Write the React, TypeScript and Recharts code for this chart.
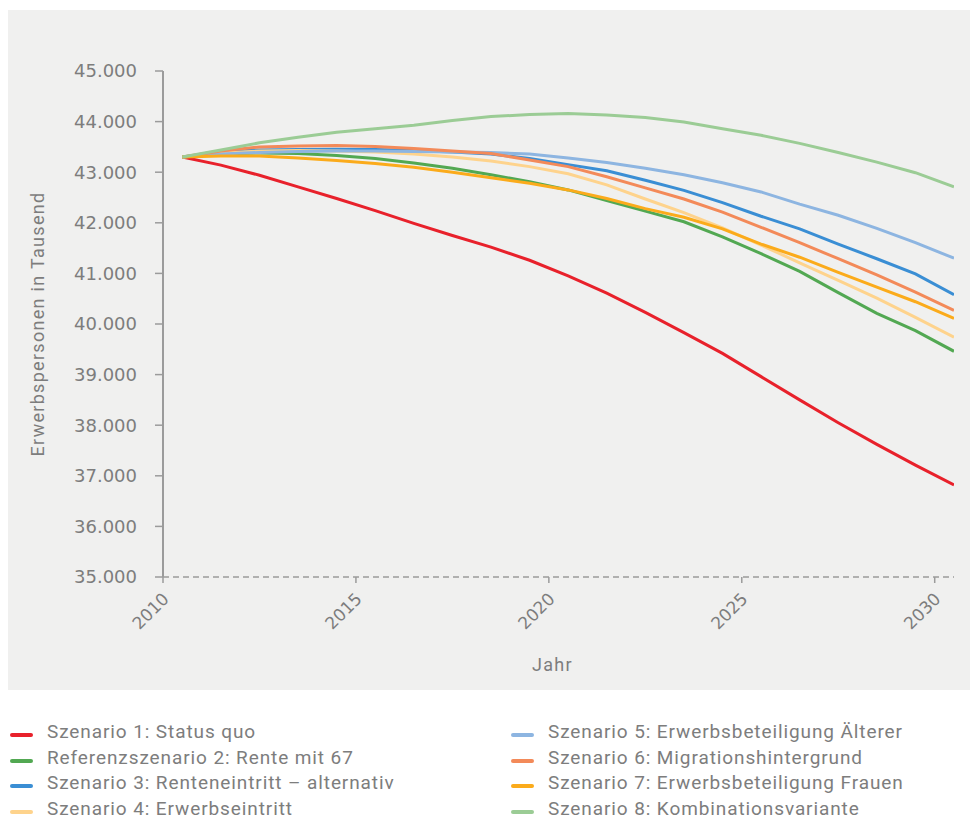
import React from 'react';
import { LineChart, Line, XAxis, YAxis } from 'recharts';

const years = [
  2010.5, 2011.5, 2012.5, 2013.5, 2014.5, 2015.5, 2016.5, 2017.5, 2018.5, 2019.5, 2020.5,
  2021.5, 2022.5, 2023.5, 2024.5, 2025.5, 2026.5, 2027.5, 2028.5, 2029.5, 2030.5,
];
const xTicks = [2010, 2015, 2020, 2025, 2030];
const yTicks = [35000, 36000, 37000, 38000, 39000, 40000, 41000, 42000, 43000, 44000, 45000];

const s1 = [43300, 43140, 42940, 42710, 42480, 42240, 41990, 41750, 41520, 41260, 40950, 40610, 40230, 39830, 39420, 38960, 38500, 38050, 37620, 37210, 36820];
const s2 = [43300, 43360, 43380, 43370, 43330, 43270, 43180, 43080, 42950, 42810, 42650, 42440, 42230, 42020, 41720, 41390, 41040, 40620, 40210, 39870, 39460];
const s3 = [43300, 43400, 43440, 43450, 43455, 43450, 43430, 43400, 43360, 43270, 43150, 43030, 42840, 42640, 42400, 42130, 41880, 41580, 41290, 40990, 40580];
const s4 = [43300, 43380, 43420, 43430, 43420, 43400, 43360, 43300, 43220, 43110, 42970, 42750, 42470, 42200, 41900, 41560, 41210, 40860, 40510, 40130, 39740];
const s5 = [43300, 43360, 43390, 43410, 43420, 43420, 43410, 43400, 43390, 43360, 43280, 43190, 43080, 42950, 42790, 42610, 42370, 42150, 41890, 41610, 41300];
const s6 = [43300, 43420, 43500, 43520, 43530, 43510, 43470, 43420, 43370, 43240, 43110, 42910, 42690, 42470, 42210, 41910, 41610, 41290, 40970, 40630, 40270];
const s7 = [43300, 43320, 43320, 43280, 43230, 43170, 43100, 43000, 42890, 42780, 42650, 42480, 42280, 42110, 41880, 41580, 41320, 41020, 40730, 40440, 40110];
const s8 = [43300, 43440, 43580, 43690, 43790, 43860, 43930, 44020, 44100, 44140, 44160, 44130, 44080, 43990, 43860, 43730, 43570, 43390, 43200, 42990, 42710];

const series = [
  { key: 's1', name: 'Szenario 1: Status quo', color: '#e8212b', values: s1 },
  { key: 's2', name: 'Referenzszenario 2: Rente mit 67', color: '#52a852', values: s2 },
  { key: 's3', name: 'Szenario 3: Renteneintritt – alternativ', color: '#3a8ed4', values: s3 },
  { key: 's4', name: 'Szenario 4: Erwerbseintritt', color: '#fed38c', values: s4 },
  { key: 's5', name: 'Szenario 5: Erwerbsbeteiligung Älterer', color: '#8db5e1', values: s5 },
  { key: 's6', name: 'Szenario 6: Migrationshintergrund', color: '#f38a59', values: s6 },
  { key: 's7', name: 'Szenario 7: Erwerbsbeteiligung Frauen', color: '#fbab1b', values: s7 },
  { key: 's8', name: 'Szenario 8: Kombinationsvariante', color: '#9bcc95', values: s8 },
];

const rows = years.map((year, i) => {
  const row: Record<string, number> = { year };
  series.forEach((s) => { row[s.key] = s.values[i]; });
  return row;
});

const axisGray = '#9b9b9b';
const labelGray = '#7d7d7d';
const tickFont = '"DejaVu Sans", Verdana, sans-serif';
const textFont = 'Roboto, "Noto Sans", Arial, sans-serif';

const fmt = (v: number) => String(v).replace(/\B(?=(\d{3})+(?!\d))/g, '.');

const XTick = (props: any) => {
  const { x, y, payload } = props;
  const ax = x + 7;
  const ay = y + 15;
  return (
    <text x={ax} y={ay} transform={`rotate(-45 ${ax} ${ay})`} textAnchor="end"
      fill={labelGray} fontSize={17} fontFamily={tickFont}>
      {payload.value}
    </text>
  );
};

const YTitle = (props: any) => {
  const { viewBox } = props;
  const cx = viewBox.x + 29;
  const cy = viewBox.y + viewBox.height / 2;
  return (
    <text x={cx} y={cy} transform={`rotate(-90 ${cx} ${cy})`} textAnchor="middle"
      dominantBaseline="central" fill={labelGray} fontSize={18} letterSpacing={1.3} fontFamily={textFont}>
      Erwerbspersonen in Tausend
    </text>
  );
};

const XTitle = (props: any) => {
  const { viewBox } = props;
  const cx = viewBox.x + viewBox.width / 2 - 6;
  const cy = viewBox.y + 87;
  return (
    <text x={cx} y={cy} textAnchor="middle" dominantBaseline="central"
      fill={labelGray} fontSize={18} letterSpacing={1.3} fontFamily={textFont}>
      Jahr
    </text>
  );
};

function LegendItem({ name, color, left, top }: { name: string; color: string; left: number; top: number }) {
  return (
    <div style={{ position: 'absolute', left, top, height: 26, display: 'flex', alignItems: 'center' }}>
      <div style={{ width: 23, height: 4, borderRadius: 2, background: color, marginTop: 6 }} />
      <span style={{ marginLeft: 14, fontSize: 19, lineHeight: '18px', color: labelGray, fontFamily: textFont, letterSpacing: 0.9, whiteSpace: 'nowrap' }}>
        {name}
      </span>
    </div>
  );
}

export default function App() {
  return (
    <div style={{ width: 962, height: 808, paddingLeft: 8, paddingTop: 10, position: 'relative' }}>
      <style>{'body{margin:0;overflow:hidden}'}</style>
      <div style={{ width: 962, height: 680, background: '#f0f0ef' }}>
        <LineChart width={962} height={680} data={rows} margin={{ top: 61, right: 16, left: 0, bottom: 0 }}>
          <XAxis
            dataKey="year"
            type="number"
            domain={[2010, 2030.5]}
            ticks={xTicks}
            allowDataOverflow
            height={113}
            axisLine={{ stroke: axisGray, strokeWidth: 1.5, strokeDasharray: '6 4' }}
            tickLine={{ stroke: axisGray, strokeWidth: 1.5 }}
            tickSize={6}
            tick={<XTick />}
            label={{ content: <XTitle /> }}
          />
          <YAxis
            type="number"
            domain={[35000, 45000]}
            ticks={yTicks}
            width={155}
            axisLine={{ stroke: axisGray, strokeWidth: 2 }}
            tickLine={{ stroke: axisGray, strokeWidth: 1.5 }}
            tickSize={8}
            tickMargin={18}
            tickFormatter={fmt}
            tick={{ fill: labelGray, fontSize: 18, fontFamily: tickFont }}
            label={{ content: <YTitle /> }}
          />
          {series.map((s) => (
            <Line
              key={s.key}
              type="linear"
              dataKey={s.key}
              name={s.name}
              stroke={s.color}
              strokeWidth={3}
              dot={false}
              isAnimationActive={false}
            />
          ))}
        </LineChart>
      </div>
      <div style={{ position: 'relative', height: 128 }}>
        {series.map((s, i) => (
          <LegendItem
            key={s.key}
            name={s.name}
            color={s.color}
            left={i < 4 ? 2 : 503}
            top={29 + (i % 4) * 25.6}
          />
        ))}
      </div>
    </div>
  );
}
